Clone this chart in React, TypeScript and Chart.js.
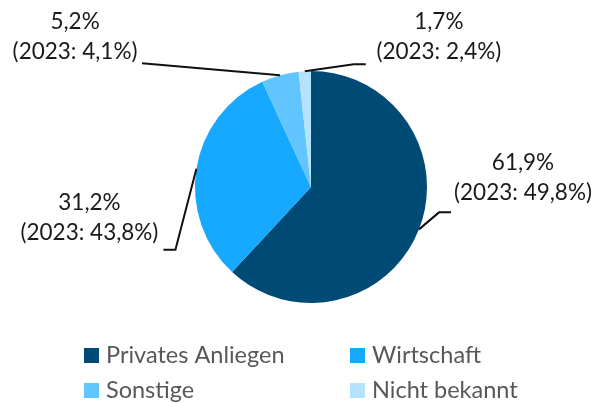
import { useEffect, useRef } from "react";
import { Chart, registerables } from "chart.js";

Chart.register(...registerables);

const categories = ["Privates Anliegen", "Wirtschaft", "Sonstige", "Nicht bekannt"];
const shares2024 = [61.9, 31.2, 5.2, 1.7];
const shares2023 = [49.8, 43.8, 4.1, 2.4];
const colors = ["#004B76", "#17A8FF", "#61C6FF", "#B4E2FF"];

const fmt = (v: number) => v.toFixed(1).replace(".", ",") + "%";

// leader-line layout per slice: elbow offset from slice edge, horizontal tail, text offsets
const leaders = [
  { ex: 20, ey: -17, hx: 12, tx: 72, ty1: -50, ty2: -20 },
  { ex: -21, ey: 81, hx: -12, tx: -74, ty1: -47, ty2: -17 },
  { ex: -138, ey: -12, hx: 0, tx: -67, ty1: -41, ty2: -11 },
  { ex: 49, ey: -7, hx: 12, tx: 73, ty1: -42, ty2: -12 },
];

const FONT = 'Lato, "DejaVu Sans", sans-serif';

const labelPlugin = {
  id: "pieLabels",
  afterDraw(chart: any) {
    const ctx = chart.ctx;
    const meta = chart.getDatasetMeta(0);
    ctx.save();
    meta.data.forEach((arc: any, i: number) => {
      const p = arc.getProps(["x", "y", "startAngle", "endAngle", "outerRadius"], true);
      const mid = (p.startAngle + p.endAngle) / 2;
      const ax = p.x + Math.cos(mid) * p.outerRadius;
      const ay = p.y + Math.sin(mid) * p.outerRadius;
      const L = leaders[i];
      const bx = ax + L.ex;
      const by = ay + L.ey;
      const cx = bx + L.hx;
      ctx.strokeStyle = "#111";
      ctx.lineWidth = 2;
      ctx.beginPath();
      ctx.moveTo(ax, ay);
      ctx.lineTo(bx, by);
      ctx.lineTo(cx, by);
      ctx.stroke();
      ctx.fillStyle = "#1a1a1a";
      ctx.font = `22.5px ${FONT}`;
      ctx.textAlign = "center";
      ctx.textBaseline = "middle";
      ctx.fillText(fmt(shares2024[i]), cx + L.tx, by + L.ty1);
      ctx.fillText(`(2023: ${fmt(shares2023[i])})`, cx + L.tx, by + L.ty2);
    });
    // legend (two columns)
    const colX = [84, 350];
    const rowY = [355.5, 390.5];
    ctx.font = `23.5px ${FONT}`;
    ctx.textAlign = "left";
    ctx.textBaseline = "middle";
    categories.forEach((c, i) => {
      const x = colX[i % 2];
      const y = rowY[Math.floor(i / 2)];
      ctx.fillStyle = colors[i];
      ctx.fillRect(x, y - 7.5, 15, 15);
      ctx.fillStyle = "#585858";
      ctx.fillText(c, x + 22, y);
    });
    ctx.restore();
  },
};

export default function App() {
  const ref = useRef<HTMLCanvasElement | null>(null);
  useEffect(() => {
    document.body.style.margin = "0";
    document.body.style.overflow = "hidden";
    if (!ref.current) return;
    const chart = new Chart(ref.current, {
      type: "pie",
      data: {
        labels: categories,
        datasets: [
          {
            data: shares2024,
            backgroundColor: colors,
            borderWidth: 0,
          },
        ],
      },
      options: {
        animation: false,
        responsive: false,
        layout: { padding: { left: 195, right: 181, top: 71, bottom: 100 } },
        plugins: {
          legend: { display: false },
          tooltip: { enabled: false },
        },
      },
      plugins: [labelPlugin],
    });
    return () => chart.destroy();
  }, []);
  return (
    <div style={{ width: 608, height: 403 }}>
      <canvas ref={ref} width={608} height={403} style={{ display: "block" }} />
    </div>
  );
}
